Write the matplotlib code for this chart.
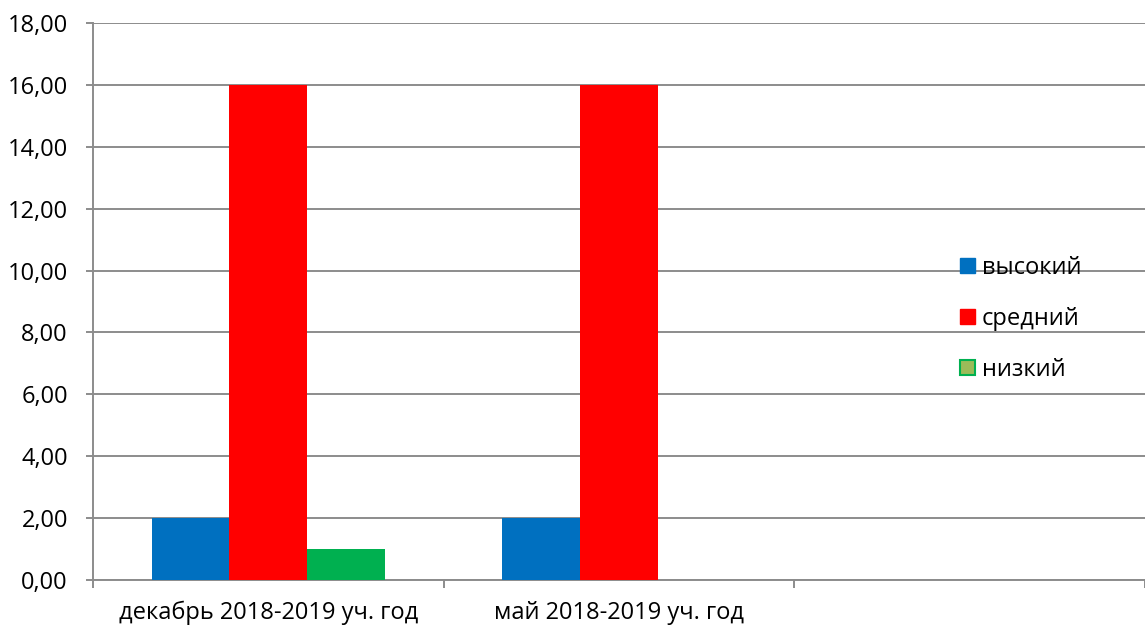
import numpy as np
import matplotlib.pyplot as plt
from matplotlib.patches import Patch
from matplotlib.ticker import FuncFormatter

plt.rcParams.update({"font.family": ["Open Sans", "DejaVu Sans"], "font.size": 17})

categories = ["декабрь 2018-2019 уч. год", "май 2018-2019 уч. год", ""]
series_names = ["высокий", "средний", "низкий"]
high = [2.0, 2.0, np.nan]
mid = [16.0, 16.0, np.nan]
low = [1.0, 0.0, np.nan]

colors = ["#0070C0", "#FF0000", "#00B050"]
GRID = "#8c8c8c"

fig = plt.figure(figsize=(11.45, 6.27), dpi=100)
ax = fig.add_axes([93 / 1145, 47 / 627, (1145 - 93) / 1145, (580 - 23) / 627])

x = np.arange(len(categories))
w = 0.222
for i, (vals, c) in enumerate(zip([high, mid, low], colors)):
    ax.bar(x + (i - 1) * w, vals, width=w, color=c, zorder=3)

ax.set_ylim(0, 18)
ax.set_yticks(np.arange(0, 19, 2))
ax.yaxis.set_major_formatter(FuncFormatter(lambda v, p: f"{v:.2f}".replace(".", ",")))
ax.set_xlim(-0.5, -0.5 + (1145 - 93) / 354)

ax.set_xticks(x)
ax.set_xticklabels(categories)
ax.set_xticks(np.arange(-0.5, 3, 1.0), minor=True)
ax.tick_params(axis="x", which="major", length=0, pad=15)
ax.tick_params(axis="x", which="minor", length=6, color=GRID, width=1.4)
ax.tick_params(axis="y", length=5, color=GRID, width=1.4, pad=13)

ax.grid(axis="y", color=GRID, lw=1.4, zorder=0)
for s in ["top", "right"]:
    ax.spines[s].set_visible(False)
for s in ["left", "bottom"]:
    ax.spines[s].set_color(GRID)
    ax.spines[s].set_linewidth(1.4)

handles = [
    Patch(facecolor=colors[0], edgecolor=colors[0]),
    Patch(facecolor=colors[1], edgecolor=colors[1]),
    Patch(facecolor="#9BBB59", edgecolor=colors[2], lw=1.5),
]
fig.legend(handles, series_names, loc="center left",
           bbox_to_anchor=(951 / 1145, 1 - 319 / 627), frameon=False,
           handlelength=0.6, handleheight=0.6, handletextpad=0.3,
           labelspacing=1.15, borderaxespad=0)

fig.savefig("out.png", dpi=100)
